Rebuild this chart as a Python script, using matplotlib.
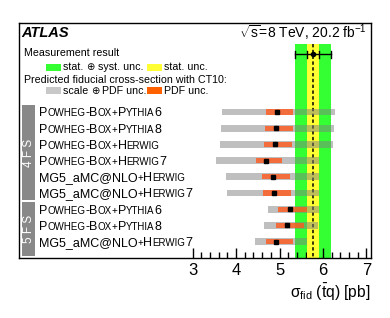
import matplotlib
matplotlib.use("Agg")
import matplotlib.pyplot as plt
from matplotlib.patches import Rectangle
from matplotlib.ticker import FixedLocator
from matplotlib.transforms import ScaledTranslation
from matplotlib import font_manager
from matplotlib.ft2font import FT2Font
import matplotlib.ft2font as ft2

plt.rcParams['font.family'] = ['Liberation Sans', 'DejaVu Sans']
plt.rcParams['mathtext.fontset'] = 'custom'
plt.rcParams['mathtext.rm'] = 'Liberation Sans'
plt.rcParams['mathtext.it'] = 'Liberation Sans:italic'
plt.rcParams['mathtext.bf'] = 'Liberation Sans:bold'

# ---- data ----
# each label: list of (text, is_small_caps)
labels = [
    [("P", 0), ("OWHEG", 1), ("-B", 0), ("OX", 1), ("+", 1), ("P", 0), ("YTHIA", 1), ("6", 0)],
    [("P", 0), ("OWHEG", 1), ("-B", 0), ("OX", 1), ("+", 1), ("P", 0), ("YTHIA", 1), ("8", 0)],
    [("P", 0), ("OWHEG", 1), ("-B", 0), ("OX", 1), ("+", 1), ("H", 0), ("ERWIG", 1)],
    [("P", 0), ("OWHEG", 1), ("-B", 0), ("OX", 1), ("+", 1), ("H", 0), ("ERWIG", 1), ("7", 0)],
    [("MG5_aMC@NLO", 0), ("+", 1), ("H", 0), ("ERWIG", 1)],
    [("MG5_aMC@NLO", 0), ("+", 1), ("H", 0), ("ERWIG", 1), ("7", 0)],
    [("P", 0), ("OWHEG", 1), ("-B", 0), ("OX", 1), ("+", 1), ("P", 0), ("YTHIA", 1), ("6", 0)],
    [("P", 0), ("OWHEG", 1), ("-B", 0), ("OX", 1), ("+", 1), ("P", 0), ("YTHIA", 1), ("8", 0)],
    [("MG5_aMC@NLO", 0), ("+", 1), ("H", 0), ("ERWIG", 1), ("7", 0)],
]
central = [4.94, 4.92, 4.90, 4.70, 4.86, 4.88, 5.23, 5.17, 4.93]
total_lo = [3.67, 3.65, 3.63, 3.54, 3.76, 3.78, 4.74, 4.65, 4.44]
total_hi = [6.28, 6.26, 6.24, 5.91, 5.91, 5.91, 5.91, 5.89, 5.63]
pdf_lo = [4.68, 4.67, 4.64, 4.46, 4.60, 4.63, 4.97, 4.91, 4.68]
pdf_hi = [5.32, 5.31, 5.29, 5.06, 5.24, 5.26, 5.63, 5.56, 5.31]

meas = 5.77
meas_stat = 0.14
meas_tot = 0.42

schemes = ["4 F S", "5 F S"]
scheme_rows = [(0, 5), (6, 8)]

xticks_major = [3, 4, 5, 6, 7]

# ---- font advance helper (for small caps) ----
_fpath = font_manager.findfont(font_manager.FontProperties(family='Liberation Sans'))
_font = FT2Font(_fpath)
_font.set_size(1000, 72)
try:
    _NOHINT = ft2.LoadFlags.NO_HINTING
except AttributeError:
    _NOHINT = ft2.LOAD_NO_HINTING


def advance_em(s):
    tot = 0.0
    for c in s:
        g = _font.load_char(ord(c), flags=_NOHINT)
        tot += g.linearHoriAdvance / 65536.0
    return tot / 1000.0


# ---- figure ----
W, H = 390, 318
fig = plt.figure(figsize=(W / 100, H / 100), dpi=100)
ax = fig.add_axes([19 / W, 1 - 257.7 / H, (370.7 - 19) / W, (257.7 - 23) / H])
ax.set_xlim(-1.0, 7.1)
ax.set_ylim(9.0, -5.5)

green = '#33FF33'
yellow = '#FFFF33'
band_top = -4.22

# measurement bands
ax.add_patch(Rectangle((meas - meas_tot, band_top), 2 * meas_tot, 9.0 - band_top,
                       facecolor=green, edgecolor='none', zorder=1))
ax.add_patch(Rectangle((meas - meas_stat, band_top), 2 * meas_stat, 9.0 - band_top,
                       facecolor=yellow, edgecolor='none', zorder=2))
ax.plot([meas, meas], [band_top, 9.0], color='black', lw=1.1, ls=(0, (2.2, 1.6)), zorder=3)

# measurement error bar in legend area
ym = -3.56
ax.plot([meas - meas_tot, meas + meas_tot], [ym, ym], color='black', lw=1.0, zorder=6)
for xv in [meas - meas_tot, meas - meas_stat, meas + meas_stat, meas + meas_tot]:
    ax.plot([xv, xv], [ym - 0.2, ym + 0.2], color='black', lw=1.0, zorder=6)
ax.plot([meas], [ym], marker='o', ms=3, color='black', zorder=7)

# predictions
gh = 0.42
oh = 0.32
for i in range(len(central)):
    ax.add_patch(Rectangle((total_lo[i], i - gh / 2), total_hi[i] - total_lo[i], gh,
                           facecolor=(0.5, 0.5, 0.5, 0.5), edgecolor='none', zorder=4))
    ax.add_patch(Rectangle((pdf_lo[i], i - oh / 2), pdf_hi[i] - pdf_lo[i], oh,
                           facecolor='#FF5A1F', alpha=0.82, edgecolor='none', zorder=5))
ax.plot(central, list(range(len(central))), ls='none', marker='s', ms=3.2,
        color='black', zorder=7)

# scheme boxes
for name, (r0, r1) in zip(schemes, scheme_rows):
    y0 = r0 - 0.42
    y1 = r1 + 0.45 if r1 == 5 else r1 + 0.9
    ax.add_patch(Rectangle((-0.92, y0), 0.29, y1 - y0, facecolor='#888888',
                           edgecolor='none', zorder=2))
    ax.text(-0.775, (y0 + y1) / 2, name, rotation=90, color='white', ha='center',
            va='center', fontsize=8.5, zorder=3)

# labels with small caps
big = 9.0
small = big * 0.78
for i, parts in enumerate(labels):
    yb = i + 0.27
    off = 0.0
    for txt, sc in parts:
        fs = small if sc else big
        tr = ax.transData + ScaledTranslation(off / 72.0, 0, fig.dpi_scale_trans)
        ax.text(-0.54, yb, txt, fontsize=fs, va='baseline', ha='left',
                transform=tr, zorder=8, family='Liberation Sans')
        off += advance_em(txt) * fs

# axes styling
for s in ax.spines.values():
    s.set_linewidth(1.0)
ax.xaxis.set_major_locator(FixedLocator(xticks_major))
ax.xaxis.set_minor_locator(FixedLocator([3 + 0.2 * k for k in range(21) if k % 5]))
ax.tick_params(axis='x', which='major', direction='in', length=7, width=1.0,
               labelsize=12, pad=4, top=False)
ax.tick_params(axis='x', which='minor', direction='in', length=4, width=1.0, top=False)
ax.set_yticks([])
ax.set_xlabel(r"$\mathrm{\sigma_{fid}}$ ($\mathrm{\bar{t}q}$) [pb]", fontsize=11.2,
              loc='right', labelpad=3)

# header texts
def fx(px):
    return px / W


def fy(py):
    return 1 - py / H


fig.text(fx(21), fy(33), "ATLAS", fontsize=10.5, fontweight='bold', style='italic',
         va='center', ha='left')
fig.text(fx(367), fy(33), r"$\sqrt{\mathrm{s}}$=8 TeV, 20.2 fb$^{-1}$", fontsize=10,
         va='center', ha='right')

lf = 7.7
fig.text(fx(24), fy(53), "Measurement result", fontsize=lf, va='center', ha='left')
fig.text(fx(24), fy(80), "Predicted fiducial cross-section with CT10:", fontsize=lf,
         va='center', ha='left')


def patch(x0, x1, y0, y1, c):
    fig.patches.append(Rectangle((fx(x0), fy(y1)), (x1 - x0) / W, (y1 - y0) / H,
                                 transform=fig.transFigure, facecolor=c,
                                 edgecolor='none'))


def legtext(x, y, a, b):
    osz = lf * 0.95
    fig.text(fx(x), fy(y), a, fontsize=lf, va='center', ha='left')
    fig.text(fx(x) + advance_em(a) * lf / 72 / (W / 100), fy(y), "⊕",
             fontsize=osz, va='center', ha='left', family='DejaVu Sans')
    fig.text(fx(x) + (advance_em(a) * lf + 0.84 * osz) / 72 / (W / 100), fy(y), b,
             fontsize=lf, va='center', ha='left')


patch(45.7, 60.7, 64.3, 71, green)
legtext(63, 67.5, "stat. ", " syst. unc.")
patch(146.7, 161.7, 64.3, 71, yellow)
fig.text(fx(163.5), fy(67.5), "stat. unc.", fontsize=lf, va='center', ha='left')
patch(45.7, 60.7, 87.3, 94, '#C8C8C8')
legtext(63, 90.5, "scale ", " PDF unc.")
patch(146.7, 161.7, 87.3, 94, '#FF6000')
fig.text(fx(163.5), fy(90.5), "PDF unc.", fontsize=lf, va='center', ha='left')

fig.savefig("out.png", dpi=100)
